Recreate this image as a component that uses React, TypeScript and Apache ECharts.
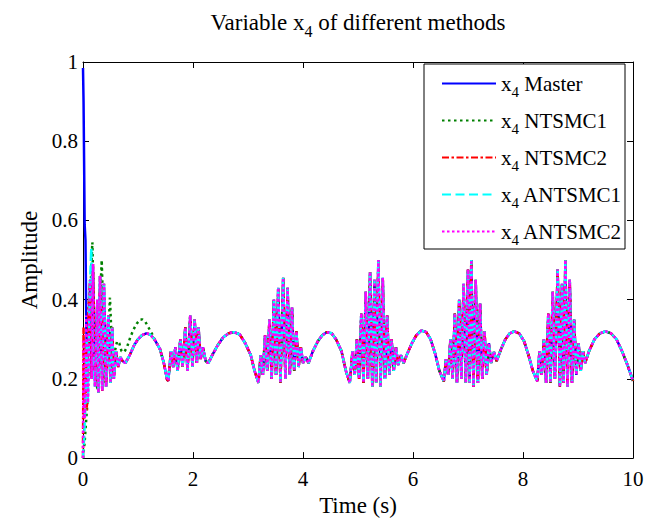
import React, { useEffect, useRef } from "react";
import * as echarts from "echarts";

type Pt = [number, number];

const FONT = "Liberation Serif";

const seriesNames = ["Master", "NTSMC1", "NTSMC2", "ANTSMC1", "ANTSMC2"];
const seriesColors = ["#0000ff", "#008000", "#ff0000", "#00ffff", "#ff00ff"];
const xTicks = { min: 0, max: 10, interval: 2 };
const yTicks = { min: 0, max: 1, interval: 0.2 };

// start-up transients
const masterHead: Pt[] = [
  [0, 0.985], [0.01, 0.9], [0.02, 0.75], [0.03, 0.59], [0.045, 0.55], [0.06, 0.34], [0.08, 0.2], [0.1, 0.3],
];
const ntsmc1Head: Pt[] = [
  [0, 0], [0.03, 0.04], [0.06, 0.1], [0.09, 0.16], [0.12, 0.33], [0.15, 0.48], [0.17, 0.545], [0.2, 0.36],
  [0.24, 0.19], [0.27, 0.17], [0.3, 0.36], [0.34, 0.5], [0.37, 0.36], [0.41, 0.19], [0.45, 0.28], [0.49, 0.405],
  [0.52, 0.3], [0.55, 0.22], [0.58, 0.27], [0.62, 0.295], [0.66, 0.29], [0.7, 0.27], [0.75, 0.268], [0.8, 0.28],
  [0.86, 0.305], [0.92, 0.325], [0.98, 0.34], [1.04, 0.35], [1.08, 0.35], [1.13, 0.345], [1.19, 0.33], [1.25, 0.315],
];
const ntsmc2Head: Pt[] = [
  [0, 0], [0.01, 0.33], [0.025, 0.1], [0.05, 0.3], [0.07, 0.12], [0.1, 0.38],
];
const antsmc1Head: Pt[] = [
  [0, 0], [0.02, 0.05], [0.04, 0.12], [0.07, 0.3], [0.09, 0.14], [0.12, 0.4], [0.15, 0.53], [0.19, 0.22],
];
const antsmc2Head: Pt[] = [
  [0, 0], [0.01, 0.3], [0.03, 0.1], [0.06, 0.36], [0.09, 0.14],
];

// common early response (0.13 s .. 1.53 s)
const commonEarly: Pt[] = [
  [0.13, 0.45], [0.16, 0.2], [0.18, 0.49], [0.22, 0.18], [0.26, 0.4], [0.28, 0.165], [0.31, 0.46], [0.35, 0.17],
  [0.38, 0.44], [0.42, 0.18], [0.46, 0.36], [0.5, 0.19], [0.53, 0.33], [0.56, 0.2], [0.6, 0.27], [0.64, 0.23],
  [0.68, 0.255], [0.72, 0.245], [0.77, 0.24], [0.85, 0.26], [0.93, 0.285], [1.0, 0.3], [1.07, 0.31], [1.15, 0.315],
  [1.22, 0.312], [1.3, 0.3], [1.4, 0.275], [1.47, 0.24], [1.53, 0.198],
];

// steady-state trajectory shared by all methods (1.55 s .. 10 s)
const steady: Pt[] = [
  // burst 1
  [1.55, 0.195], [1.6, 0.27], [1.64, 0.23], [1.68, 0.28], [1.72, 0.22], [1.77, 0.3], [1.81, 0.23], [1.86, 0.33],
  [1.9, 0.22], [1.95, 0.36], [1.99, 0.23], [2.03, 0.35], [2.07, 0.24], [2.1, 0.33], [2.14, 0.25], [2.18, 0.28],
  [2.23, 0.245], [2.28, 0.24],
  // hump
  [2.35, 0.26], [2.45, 0.285], [2.55, 0.305], [2.65, 0.315], [2.75, 0.318], [2.85, 0.312], [2.95, 0.29],
  [3.05, 0.26], [3.12, 0.22], [3.19, 0.19],
  // burst 2
  [3.23, 0.26], [3.27, 0.21], [3.31, 0.31], [3.35, 0.22], [3.39, 0.35], [3.43, 0.2], [3.47, 0.4], [3.51, 0.21],
  [3.55, 0.43], [3.59, 0.19], [3.64, 0.455], [3.68, 0.2], [3.72, 0.43], [3.76, 0.21], [3.8, 0.38], [3.84, 0.22],
  [3.88, 0.32], [3.92, 0.23], [3.96, 0.28], [4.0, 0.24], [4.05, 0.255], [4.1, 0.24],
  // hump
  [4.18, 0.27], [4.27, 0.295], [4.35, 0.31], [4.43, 0.318], [4.52, 0.315], [4.6, 0.3], [4.7, 0.27], [4.78, 0.22],
  [4.85, 0.19],
  // burst 3
  [4.9, 0.27], [4.94, 0.21], [4.98, 0.3], [5.02, 0.2], [5.06, 0.365], [5.1, 0.19], [5.14, 0.42], [5.18, 0.2],
  [5.22, 0.47], [5.26, 0.18], [5.3, 0.45], [5.33, 0.19], [5.37, 0.5], [5.41, 0.18], [5.45, 0.455], [5.49, 0.2],
  [5.53, 0.36], [5.57, 0.21], [5.61, 0.3], [5.65, 0.22], [5.69, 0.28], [5.73, 0.235], [5.78, 0.26], [5.83, 0.24],
  // hump
  [5.9, 0.265], [5.98, 0.29], [6.06, 0.31], [6.15, 0.322], [6.24, 0.318], [6.32, 0.3], [6.4, 0.265], [6.48, 0.22],
  [6.56, 0.194],
  // burst 4
  [6.6, 0.25], [6.64, 0.21], [6.68, 0.3], [6.72, 0.2], [6.76, 0.365], [6.8, 0.19], [6.84, 0.4], [6.88, 0.2],
  [6.92, 0.44], [6.96, 0.19], [7.0, 0.476], [7.03, 0.19], [7.06, 0.5], [7.1, 0.18], [7.14, 0.45], [7.18, 0.19],
  [7.22, 0.39], [7.26, 0.2], [7.3, 0.32], [7.34, 0.21], [7.38, 0.29], [7.42, 0.24], [7.47, 0.268], [7.52, 0.245],
  // hump
  [7.6, 0.275], [7.68, 0.3], [7.76, 0.315], [7.84, 0.32], [7.93, 0.315], [8.02, 0.295], [8.1, 0.26], [8.18, 0.22],
  [8.26, 0.194],
  // burst 5
  [8.3, 0.27], [8.34, 0.21], [8.38, 0.3], [8.42, 0.19], [8.46, 0.365], [8.5, 0.19], [8.54, 0.42], [8.58, 0.2],
  [8.63, 0.476], [8.67, 0.18], [8.71, 0.44], [8.74, 0.19], [8.77, 0.5], [8.81, 0.18], [8.85, 0.45], [8.89, 0.19],
  [8.93, 0.35], [8.97, 0.21], [9.01, 0.29], [9.05, 0.22], [9.09, 0.27], [9.13, 0.24],
  // hump
  [9.2, 0.27], [9.3, 0.3], [9.4, 0.315], [9.5, 0.32], [9.6, 0.315], [9.7, 0.3], [9.8, 0.27], [9.9, 0.235],
  [10.0, 0.195],
];

function build(head: Pt[]): Pt[] {
  const last = head[head.length - 1][0];
  return head.concat(commonEarly.filter((p) => p[0] > last), steady);
}

const seriesData: Pt[][] = [
  build(masterHead),
  build(ntsmc1Head),
  build(ntsmc2Head),
  build(antsmc1Head),
  build(antsmc2Head),
];

const dashes: any[] = ["solid", [2.5, 3.5], [7, 2.5, 2.5, 2.5], [9, 4.5], [2.5, 2.5]];

export default function App() {
  const ref = useRef<HTMLDivElement>(null);
  useEffect(() => {
    if (!ref.current) return;
    const chart = echarts.init(ref.current, undefined, { renderer: "svg" });
    const axisCommon = {
      type: "value" as const,
      axisLine: { show: true, onZero: false, lineStyle: { color: "#000", width: 1 } },
      axisTick: { show: true, inside: true, length: 6, lineStyle: { color: "#000", width: 1 } },
      splitLine: { show: false },
    };
    chart.setOption({
      animation: false,
      backgroundColor: "#fff",
      textStyle: { fontFamily: FONT },
      title: {
        text: "{a|Variable x}{s|4}{a| of different methods}",
        left: 358,
        textAlign: "center",
        top: 5,
        padding: 0,
        textStyle: {
          fontFamily: FONT,
          fontWeight: "normal",
          color: "#000",
          rich: {
            a: { fontFamily: FONT, fontSize: 23, color: "#000", lineHeight: 30 },
            s: { fontFamily: FONT, fontSize: 16, color: "#000", padding: [18, 0, 0, 0] },
          },
        },
      },
      grid: { left: 83, right: 23, top: 62, bottom: 57, containLabel: false },
      xAxis: [
        {
          ...axisCommon,
          position: "bottom",
          min: xTicks.min,
          max: xTicks.max,
          interval: xTicks.interval,
          axisLabel: { color: "#000", fontFamily: FONT, fontSize: 21, margin: 10 },
          name: "Time (s)",
          nameLocation: "middle",
          nameGap: 34,
          nameTextStyle: { color: "#000", fontFamily: FONT, fontSize: 23 },
        },
        {
          ...axisCommon,
          position: "top",
          min: xTicks.min,
          max: xTicks.max,
          interval: xTicks.interval,
          axisLabel: { show: false },
        },
      ],
      yAxis: [
        {
          ...axisCommon,
          position: "left",
          min: yTicks.min,
          max: yTicks.max,
          interval: yTicks.interval,
          axisLabel: { color: "#000", fontFamily: FONT, fontSize: 21, margin: 5 },
          name: "Amplitude",
          nameLocation: "middle",
          nameGap: 40,
          nameTextStyle: { color: "#000", fontFamily: FONT, fontSize: 23 },
        },
        {
          ...axisCommon,
          position: "right",
          min: yTicks.min,
          max: yTicks.max,
          interval: yTicks.interval,
          axisLabel: { show: false },
        },
      ],
      graphic: [
        {
          type: "rect",
          shape: { x: 424, y: 64, width: 201, height: 185 },
          style: { fill: "#fff", stroke: "#000", lineWidth: 1 },
          z: 3,
        },
      ],
      legend: {
        orient: "vertical",
        left: 436,
        top: 68,
        itemWidth: 54,
        itemHeight: 12,
        itemGap: 11,
        selectedMode: false,
        data: seriesNames,
        itemStyle: { opacity: 0 },
        formatter: (name: string) => `{a|x}{s|4}{a| ${name}}`,
        textStyle: {
          fontFamily: FONT,
          color: "#000",
          rich: {
            a: { fontFamily: FONT, fontSize: 21, color: "#000", lineHeight: 30 },
            s: { fontFamily: FONT, fontSize: 15, color: "#000", padding: [16, 0, 0, 0] },
          },
        },
        z: 5,
      },
      series: seriesNames.map((n, i) => ({
        name: n,
        type: "line",
        xAxisIndex: 0,
        yAxisIndex: 0,
        data: seriesData[i],
        symbol: "none",
        showSymbol: false,
        lineStyle: { color: seriesColors[i], width: 2.5, type: dashes[i], cap: "butt" },
        itemStyle: { color: seriesColors[i] },
        z: 2 + i * 0.01,
      })),
    });
    return () => chart.dispose();
  }, []);
  return <div ref={ref} style={{ width: 656, height: 522, position: "absolute", left: 0, top: 0 }} />;
}
